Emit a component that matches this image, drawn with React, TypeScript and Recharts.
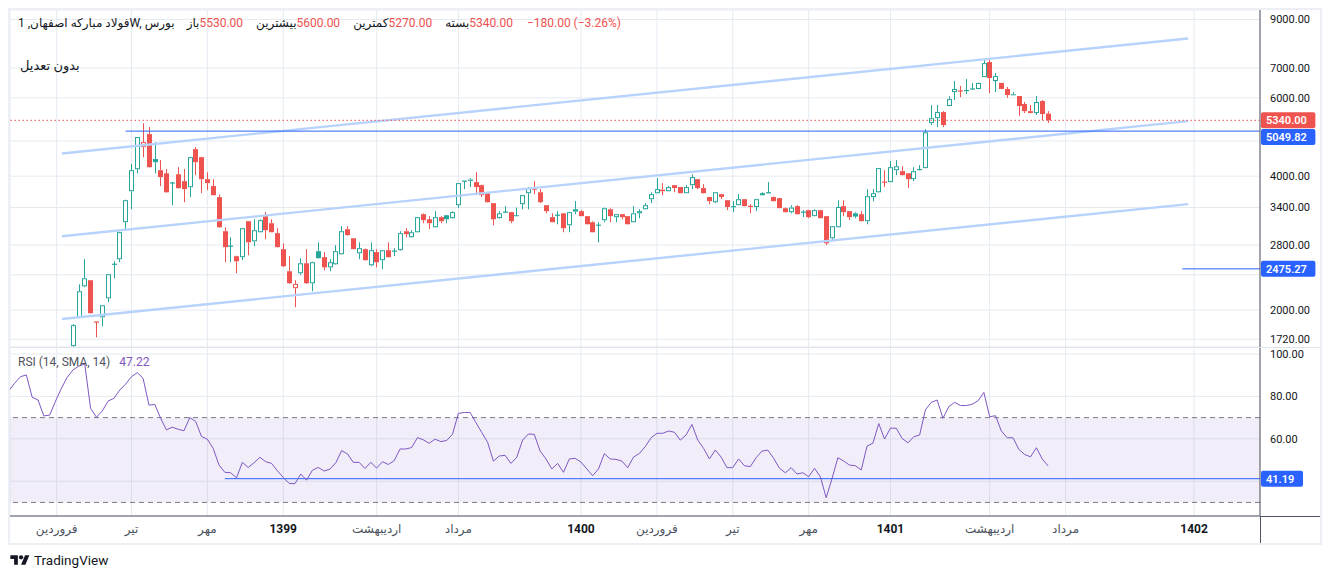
import { Bar, CartesianGrid, ComposedChart, Line, LineChart, ReferenceArea, ReferenceLine, XAxis, YAxis } from "recharts";

// weekly candles (index 0 = first visible candle)
const opens = [
  1660, 1925, 2262, 2334, 1880, 1927, 2125, 2535, 2602, 3152, 3700, 4146, 4650, 4972, 4370, 4126, 4060, 3860, 4040, 3898,
  3778, 4600, 4413, 3938, 3800, 3588, 3008, 2785, 2643, 2630, 3168, 2855, 2992, 3252, 3135, 2978, 2741, 2445, 2240, 2420,
  2548, 2298, 2713, 2630, 2495, 2535, 2670, 3040, 2900, 2684, 2741, 2522, 2700, 2589, 2727, 2713, 2727, 3008, 2916, 2992,
  3285, 3200, 3071, 3235, 3268, 3218, 3442, 3898, 3930, 3878, 3818, 3662, 3478, 3218, 3320, 3320, 3268, 3460, 3662, 3740,
  3680, 3442, 3235, 3268, 3300, 3103, 3370, 3337, 3252, 3151, 3103, 3185, 3370, 3235, 3285, 3252, 3151, 3300, 3370, 3550,
  3662, 3700, 3700, 3818, 3780, 3662, 3818, 3938, 3760, 3590, 3495, 3644, 3532, 3415, 3442, 3550, 3420, 3410, 3625, 3670,
  3590, 3570, 3388, 3320, 3425, 3320, 3354, 3252, 3354, 3252, 2900, 3071, 3425, 3337, 3300, 3285, 3168, 3590, 3680, 3878,
  3878, 4126, 4105, 4060, 3938, 4150, 4170, 5264, 5400, 5573, 5750, 6180, 6215, 6230, 6280, 6280, 6680, 7220, 6545, 6480,
  6280, 6110, 6055, 5810, 5600, 5545, 5900, 5530,
];
const highs = [
  1860, 2285, 2602, 2334, 1880, 2050, 2408, 2575, 3000, 3540, 4260, 4900, 5260, 5156, 4770, 4346, 4150, 3880, 4190, 4150,
  4420, 4650, 4420, 4080, 3938, 3640, 3071, 2916, 2650, 3060, 3170, 3200, 3200, 3320, 3200, 3055, 2825, 2643, 2334, 2616,
  2741, 2570, 2840, 2700, 2602, 2798, 3087, 3087, 2900, 2840, 2750, 2840, 2741, 2730, 2840, 2755, 3008, 3055, 3024, 3240,
  3300, 3252, 3337, 3252, 3270, 3337, 3860, 3900, 3958, 4082, 3830, 3670, 3480, 3337, 3425, 3325, 3400, 3630, 3780, 3898,
  3740, 3445, 3300, 3337, 3305, 3325, 3515, 3354, 3255, 3168, 3151, 3400, 3388, 3290, 3290, 3255, 3425, 3370, 3478, 3680,
  3958, 3858, 3800, 3820, 3785, 3818, 4040, 3945, 3838, 3595, 3685, 3650, 3535, 3514, 3644, 3555, 3460, 3555, 3680, 3878,
  3600, 3575, 3400, 3442, 3442, 3354, 3360, 3370, 3360, 3255, 3090, 3532, 3532, 3340, 3320, 3337, 3740, 3740, 4175, 4126,
  4325, 4346, 4210, 4065, 4190, 4235, 5100, 5779, 5779, 5600, 6050, 6545, 6380, 6610, 6480, 6490, 7335, 7335, 6820, 6485,
  6345, 6180, 6060, 5870, 5779, 6055, 5930, 5600,
];
const lows = [
  1656, 1920, 2250, 1965, 1737, 1838, 2083, 2358, 2562, 3040, 3370, 4060, 4410, 4180, 4060, 3800, 3670, 3442, 3750, 3495,
  3590, 4020, 3663, 3720, 3620, 3060, 2562, 2562, 2420, 2589, 2656, 2784, 2990, 2886, 2990, 2765, 2500, 2290, 2030, 2395,
  2290, 2205, 2610, 2458, 2445, 2530, 2665, 2940, 2740, 2602, 2585, 2509, 2495, 2470, 2625, 2643, 2720, 2916, 2910, 2990,
  3135, 3040, 3065, 3135, 3135, 3210, 3388, 3740, 3780, 3625, 3590, 3490, 3103, 3210, 3315, 3135, 3250, 3370, 3370, 3644,
  3478, 3300, 3150, 3118, 2992, 2992, 3285, 3250, 3115, 2990, 2840, 3151, 3151, 3151, 3200, 3115, 3150, 3218, 3365, 3478,
  3660, 3625, 3695, 3680, 3660, 3660, 3740, 3740, 3655, 3460, 3478, 3550, 3354, 3320, 3440, 3420, 3300, 3337, 3620, 3665,
  3510, 3385, 3315, 3300, 3280, 3235, 3218, 3250, 3215, 2798, 2855, 3065, 3252, 3185, 3218, 3165, 3118, 3514, 3675, 3780,
  3875, 4021, 4015, 3760, 3898, 4120, 4165, 5210, 5156, 5156, 5745, 5930, 6020, 6120, 6270, 6275, 6675, 6150, 6180, 6275,
  6000, 6090, 5460, 5545, 5540, 5487, 5346, 5270,
];
const closes = [
  1850, 2205, 2358, 1968, 1880, 2050, 2408, 2535, 2993, 3532, 4126, 4896, 4770, 4190, 4300, 3980, 3680, 3860, 3760, 3740,
  4413, 4300, 3938, 3858, 3625, 3071, 2770, 2785, 2575, 3055, 2840, 3024, 3185, 3024, 2992, 2770, 2509, 2298, 2290, 2548,
  2298, 2562, 2616, 2495, 2562, 2713, 3008, 2947, 2741, 2755, 2589, 2727, 2562, 2727, 2630, 2713, 2978, 2962, 2992, 3235,
  3185, 3135, 3235, 3168, 3200, 3320, 3858, 3898, 3905, 3780, 3625, 3495, 3200, 3300, 3320, 3168, 3252, 3625, 3760, 3740,
  3495, 3337, 3151, 3268, 3055, 3320, 3330, 3252, 3118, 2992, 3103, 3388, 3252, 3285, 3235, 3118, 3300, 3337, 3442, 3644,
  3740, 3730, 3780, 3760, 3662, 3780, 3980, 3760, 3662, 3514, 3680, 3590, 3410, 3415, 3550, 3425, 3420, 3550, 3662, 3670,
  3514, 3390, 3320, 3400, 3285, 3320, 3235, 3354, 3218, 2825, 3087, 3410, 3320, 3235, 3245, 3168, 3606, 3662, 4170, 3878,
  4190, 4210, 4021, 3938, 4105, 4126, 5020, 5400, 5573, 5210, 5960, 6280, 6215, 6230, 6280, 6480, 7180, 6645, 6715, 6280,
  6086, 6095, 5750, 5600, 5545, 5870, 5517, 5340,
];

// RSI(14), first value sits one week left of the pane edge
const RSI_START = -11;
const rsiValues = [
  82.7, 86.2, 89.3, 90.1, 79.6, 78.3, 70.8, 71.2, 77.8, 83.8, 89.0,
  92.5, 94.3, 95.3, 74.4, 70.2, 73.1, 77.8, 79.1, 83.0, 85.8, 89.3, 91.2, 88.5, 75.9, 76.2, 69.7, 64.2, 65.5, 64.5, 63.8,
  70.0, 68.2, 61.1, 59.8, 55.5, 47.6, 44.2, 44.0, 41.6, 48.9, 46.5, 48.7, 51.3, 49.2, 48.4, 44.9, 41.8, 39.0, 38.8, 43.4,
  40.5, 45.2, 46.5, 44.8, 45.7, 48.7, 54.4, 52.9, 48.9, 48.9, 46.0, 48.9, 46.2, 49.2, 47.9, 49.7, 55.2, 55.2, 55.9, 60.6,
  59.5, 57.9, 59.8, 58.7, 59.2, 62.2, 72.0, 72.4, 72.4, 67.7, 63.0, 58.4, 49.5, 51.9, 52.2, 48.4, 51.3, 59.4, 62.3, 62.1,
  54.2, 50.5, 45.8, 48.4, 44.2, 50.5, 50.8, 49.0, 45.8, 42.6, 45.8, 53.0, 50.5, 50.3, 49.5, 46.4, 51.4, 53.1, 56.3, 60.5,
  62.6, 62.6, 63.7, 63.1, 59.4, 61.8, 66.8, 59.4, 55.5, 50.5, 54.7, 51.4, 46.4, 46.4, 50.5, 47.3, 46.9, 51.1, 54.2, 54.7,
  50.8, 46.1, 44.0, 46.4, 43.4, 44.0, 42.1, 46.1, 42.1, 32.2, 41.3, 51.1, 49.5, 47.6, 47.3, 45.3, 56.6, 57.9, 67.2, 59.9,
  65.0, 65.0, 60.2, 58.1, 61.0, 61.8, 73.7, 77.2, 78.3, 69.7, 75.2, 77.2, 75.7, 75.7, 76.3, 77.9, 81.9, 70.4, 70.9, 63.7,
  60.5, 60.5, 55.0, 52.6, 51.5, 55.8, 50.5, 47.22,
];

const xTickIdx = [-2.8, 10, 23, 36, 52, 66, 87, 100, 113, 126, 140, 157, 170, 192];
const xTickLabels = ["فروردین", "تیر", "مهر", "1399", "اردیبهشت", "مرداد", "1400", "فروردین", "تیر", "مهر", "1401", "اردیبهشت", "مرداد", "1402"];
const priceTicks = [1720, 2000, 2400, 2800, 3400, 4000, 4800, 6000, 7000, 9000];
const hiddenPriceTicks = [2400, 4800];
const rsiTicks = [40, 60, 80, 100];

// parallel channel drawn on the chart
const channelStartIdx = -1.9;
const channelEndIdx = 191;
const channelStartPrices = [4499, 2931, 1910];
const channelEndPrices = [8156, 5319, 3460];

const lastClose = 5340;
const resistance = 5049.82;
const resistanceFrom = 9;
const support = 2475.27;
const supportFrom = 190;
const rsiLevel = 41.19;
const rsiLevelFrom = 26;

const X_DOMAIN: [number, number] = [-10.8, 203.3];
const FONT = "Roboto, 'DejaVu Sans', sans-serif";
const UP = "#26a69a";
const DOWN = "#ef5350";
const BLUE = "#2962ff";
const GRID = "#e5eaf1";
const AXIS = "#50535e";
const TEXT = "#131722";

const candles = opens.map((o, i) => ({
  i,
  o,
  h: highs[i],
  l: lows[i],
  c: closes[i],
  pc: i > 0 ? closes[i - 1] : o,
  range: [lows[i], highs[i]],
}));
const rsiData = rsiValues.map((v, k) => ({ i: RSI_START + k, v }));

function Candle(props: any) {
  const { x, y, width, height, payload } = props;
  if (!payload || !Number.isFinite(x) || !Number.isFinite(y)) return null;
  const { o, h, l, c, pc } = payload;
  const top = Math.min(y, y + height);
  const span = Math.abs(height);
  const lh = Math.log(h);
  const ll = Math.log(l);
  const py = (v: number) => (lh === ll ? top : top + (span * (lh - Math.log(v))) / (lh - ll));
  const cx = Math.round(x + width / 2) + 0.5;
  const color = c >= pc ? UP : DOWN;
  const bTop = py(Math.max(o, c));
  const bBot = py(Math.min(o, c));
  let body;
  if (c > o) {
    body = <rect x={cx - 2} y={bTop + 0.5} width={4} height={Math.max(bBot - bTop - 1, 0.5)} fill="#fff" stroke={color} />;
  } else if (c < o) {
    body = <rect x={cx - 2.5} y={bTop} width={5} height={Math.max(bBot - bTop, 1)} fill={color} />;
  } else {
    body = <rect x={cx - 2.5} y={bTop - 0.6} width={5} height={1.2} fill={color} />;
  }
  return (
    <g>
      <line x1={cx} x2={cx} y1={py(h)} y2={bTop} stroke={color} />
      <line x1={cx} x2={cx} y1={bBot} y2={py(l)} stroke={color} />
      {body}
    </g>
  );
}

const priceTag = (text: string, fill: string, shift = 0) => (props: any) => {
  const vb = props.viewBox;
  if (!vb) return null;
  const x0 = vb.x + vb.width;
  const yy = vb.y + (vb.height || 0) / 2 + shift;
  const w = text.length * 6.2 + 11;
  return (
    <g>
      <rect x={x0 + 1} y={yy - 8} width={w} height={16} rx={2} fill={fill} />
      <text x={x0 + 6} y={yy} dy="0.35em" fill="#fff" fontSize={11} fontWeight={600} fontFamily={FONT}>
        {text}
      </text>
    </g>
  );
};

function XTick(props: any) {
  const { x, y, payload } = props;
  const k = xTickIdx.indexOf(payload.value);
  const label = xTickLabels[k] ?? "";
  const isYear = /^\d+$/.test(label);
  return (
    <text
      x={x}
      y={y}
      dy={17}
      textAnchor="middle"
      fontSize={12}
      fontFamily={FONT}
      fontWeight={isYear ? 700 : 400}
      fill={isYear ? TEXT : "#4c525e"}
    >
      {label}
    </text>
  );
}

const yTick = { fontSize: 11, fill: TEXT, fontFamily: FONT };

export default function App() {
  return (
    <div style={{ position: "relative", width: 1330, height: 579, background: "#fff", fontFamily: FONT, color: TEXT }}>
      <style>{`body{margin:0}`}</style>

      <div style={{ position: "absolute", left: 0, top: 0 }}>
        <ComposedChart width={1330} height={347} data={candles} margin={{ top: 10, right: 0, bottom: 0, left: 10 }}>
          <CartesianGrid stroke={GRID} />
          <XAxis dataKey="i" type="number" domain={X_DOMAIN} allowDataOverflow ticks={xTickIdx} interval={0} hide />
          <YAxis
            orientation="right"
            scale="log"
            domain={[1652, 9452]}
            allowDataOverflow
            ticks={priceTicks}
            interval={0}
            width={70}
            axisLine={{ stroke: AXIS }}
            tickLine={false}
            tickSize={0}
            tickMargin={10}
            tick={yTick}
            tickFormatter={(v: number) => (hiddenPriceTicks.includes(v) ? "" : v.toFixed(2))}
          />
          {channelStartPrices.map((p, k) => (
            <ReferenceLine
              key={k}
              segment={[
                { x: channelStartIdx, y: p },
                { x: channelEndIdx, y: channelEndPrices[k] },
              ]}
              stroke="#b8d3fb"
              strokeWidth={2.4}
            />
          ))}
          <ReferenceLine y={lastClose} stroke={DOWN} strokeDasharray="1.5 2.5" label={priceTag(lastClose.toFixed(2), DOWN)} />
          <ReferenceLine
            segment={[
              { x: resistanceFrom, y: resistance },
              { x: X_DOMAIN[1], y: resistance },
            ]}
            stroke={BLUE}
            label={priceTag(resistance.toFixed(2), BLUE, 6)}
          />
          <ReferenceLine
            segment={[
              { x: supportFrom, y: support },
              { x: X_DOMAIN[1], y: support },
            ]}
            stroke={BLUE}
            label={priceTag(support.toFixed(2), BLUE)}
          />
          <Bar dataKey="range" barSize={6} shape={(p: any) => <Candle {...p} />} isAnimationActive={false} />
        </ComposedChart>
      </div>

      <div style={{ position: "absolute", left: 0, top: 347 }}>
        <LineChart width={1330} height={196} data={rsiData} margin={{ top: 0, right: 0, bottom: 0, left: 10 }}>
          <CartesianGrid stroke={GRID} />
          <ReferenceArea y1={30} y2={70} fill="#7e57c2" fillOpacity={0.1} stroke="none" />
          <ReferenceLine y={70} stroke="#787b86" strokeDasharray="5 4" />
          <ReferenceLine y={30} stroke="#787b86" strokeDasharray="5 4" />
          <ReferenceLine
            segment={[
              { x: rsiLevelFrom, y: rsiLevel },
              { x: X_DOMAIN[1], y: rsiLevel },
            ]}
            stroke={BLUE}
            label={priceTag(rsiLevel.toFixed(2), BLUE)}
          />
          <XAxis
            dataKey="i"
            type="number"
            domain={X_DOMAIN}
            allowDataOverflow
            ticks={xTickIdx}
            interval={0}
            height={27}
            axisLine={{ stroke: AXIS }}
            tickLine={false}
            tickSize={0}
            tickMargin={0}
            tick={<XTick />}
          />
          <YAxis
            orientation="right"
            domain={[23.6, 103.3]}
            allowDataOverflow
            ticks={rsiTicks}
            interval={0}
            width={70}
            axisLine={{ stroke: AXIS }}
            tickLine={false}
            tickSize={0}
            tickMargin={10}
            tick={yTick}
            tickFormatter={(v: number) => (v === 40 ? "" : v.toFixed(2))}
          />
          <Line dataKey="v" type="linear" stroke="#7e57c2" strokeWidth={1} dot={false} isAnimationActive={false} />
        </LineChart>
      </div>

      {/* frame pieces */}
      <div style={{ position: "absolute", left: 10, top: 346.5, width: 1310, height: 1, background: "#e0e3eb" }} />
      <div style={{ position: "absolute", left: 1260, top: 515.5, width: 60, height: 1, background: AXIS }} />
      <div style={{ position: "absolute", left: 1259.5, top: 516, width: 1, height: 27, background: AXIS }} />
      <div
        style={{
          position: "absolute",
          left: 8,
          top: 8,
          width: 1314,
          height: 537,
          border: "2px solid #eceff4",
          boxSizing: "border-box",
          pointerEvents: "none",
        }}
      />

      {/* legend texts */}
      <div style={{ position: "absolute", left: 18, top: 15, display: "flex", gap: 0, fontSize: 12, lineHeight: "16px", whiteSpace: "nowrap" }}>
        <span style={{ unicodeBidi: "isolate" }}>فولاد مبارکه اصفهان, 1W, بورس</span>
        <span style={{ marginLeft: 12, unicodeBidi: "isolate" }}>باز</span>
        <span style={{ color: DOWN }}>5530.00</span>
        <span style={{ marginLeft: 13, unicodeBidi: "isolate" }}>بیشترین</span>
        <span style={{ color: DOWN }}>5600.00</span>
        <span style={{ marginLeft: 13, unicodeBidi: "isolate" }}>کمترین</span>
        <span style={{ color: DOWN }}>5270.00</span>
        <span style={{ marginLeft: 13, unicodeBidi: "isolate" }}>بسته</span>
        <span style={{ color: DOWN }}>5340.00</span>
        <span style={{ marginLeft: 14, color: DOWN }}>−180.00 (−3.26%)</span>
      </div>
      <div style={{ position: "absolute", left: 20, top: 57, fontSize: 13, lineHeight: "18px" }}>بدون تعدیل</div>
      <div style={{ position: "absolute", left: 18, top: 354, fontSize: 12, lineHeight: "16px", whiteSpace: "nowrap" }}>
        <span style={{ color: "#50535e" }}>RSI (14, SMA, 14)</span>
        <span style={{ color: "#7e57c2", marginLeft: 9 }}>47.22</span>
      </div>

      {/* watermark */}
      <div style={{ position: "absolute", left: 10, top: 552, display: "flex", alignItems: "center", gap: 4 }}>
        <svg width="20" height="15" viewBox="0 0 36 28">
          <path d="M14 22H7V11H0V4h14v18Z" fill={TEXT} />
          <circle cx="20" cy="8" r="4" fill={TEXT} />
          <path d="M28 22h-8l7.5-18h8L28 22Z" fill={TEXT} />
        </svg>
        <span style={{ fontSize: 13.5, lineHeight: "16px", color: TEXT }}>TradingView</span>
      </div>
    </div>
  );
}
